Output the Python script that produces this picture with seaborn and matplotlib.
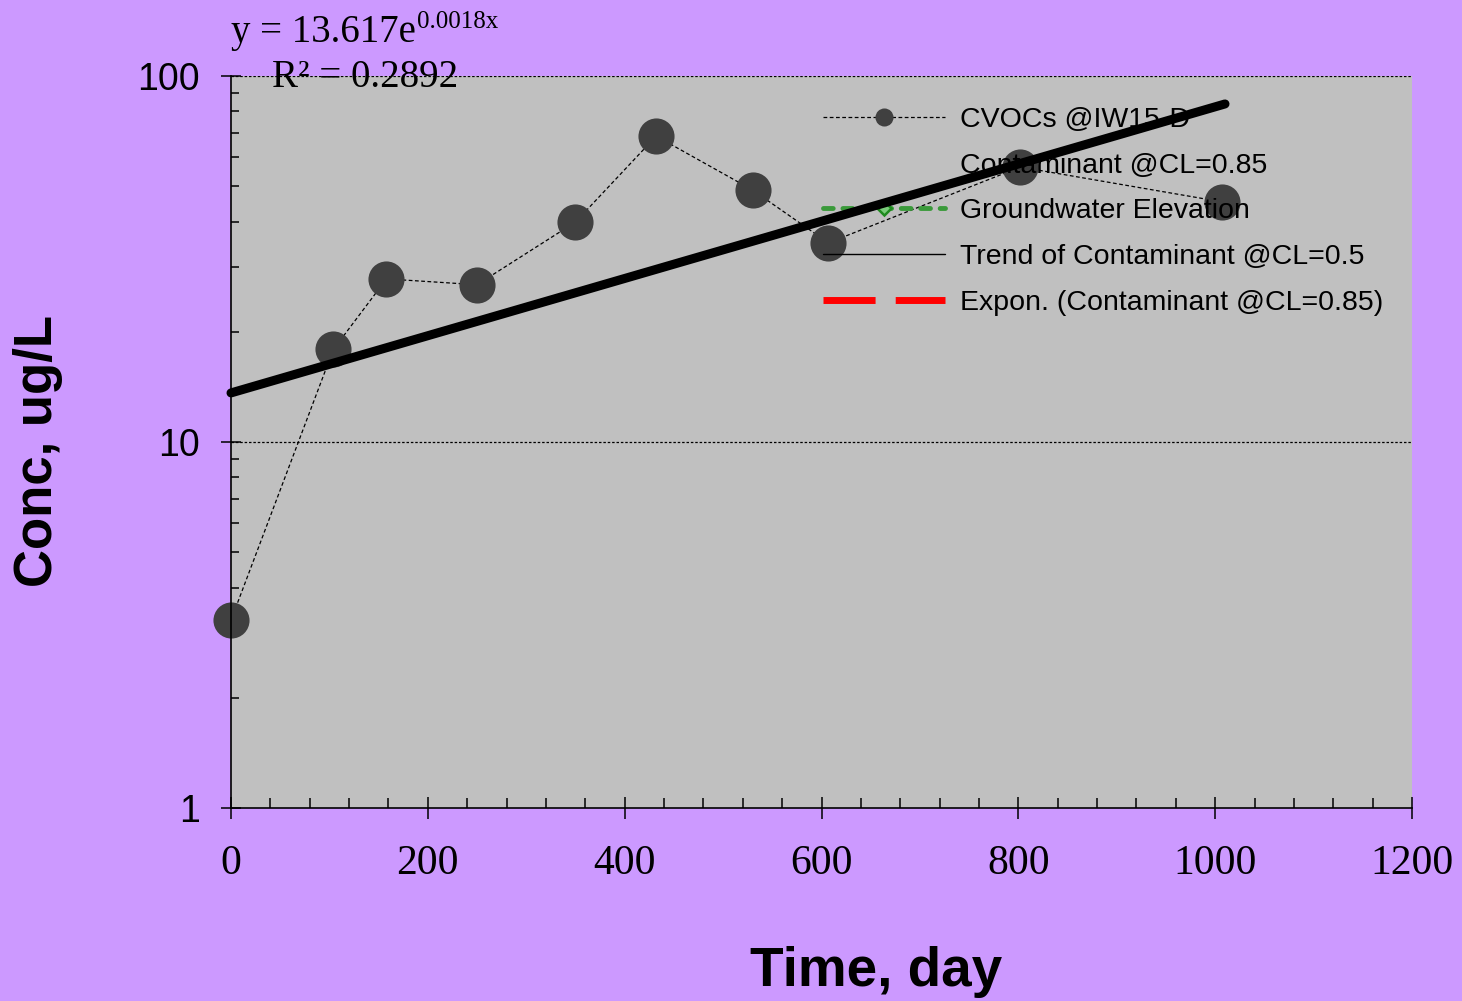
import numpy as np
import pandas as pd
import matplotlib
matplotlib.use("Agg")
import matplotlib.pyplot as plt
from matplotlib.lines import Line2D
from matplotlib.ticker import FixedLocator, NullFormatter
import seaborn as sns

# Monitoring data: CVOCs at well IW15-D
days = [0, 104, 158, 250, 350, 432, 530, 607, 802, 1007]
conc = [3.26, 17.9, 27.9, 26.9, 39.9, 68.5, 48.8, 35.0, 56.4, 45.3]

# Exponential trend fitted to the series (y = a * exp(b * x))
trend_a = 13.617
trend_b = 0.0018
trend_r2 = 0.2892
trend_days = [0, 1010]

x_ticks = [0, 200, 400, 600, 800, 1000, 1200]
y_ticks = [1, 10, 100]
legend_labels = ["CVOCs @IW15-D", "Contaminant @CL=0.85", "Groundwater Elevation",
                 "Trend of Contaminant @CL=0.5", "Expon. (Contaminant @CL=0.85)"]

df = pd.DataFrame({"day": days, "conc": conc})
trend_df = pd.DataFrame({"day": trend_days})
trend_df["conc"] = trend_a * np.exp(trend_b * trend_df["day"])

sns.set_style("ticks")
plt.rcParams["font.family"] = ["Liberation Sans", "DejaVu Sans"]
plt.rcParams.update({"text.color": "black", "axes.labelcolor": "black",
                     "xtick.color": "black", "ytick.color": "black",
                     "axes.edgecolor": "black"})

W, H = 1462, 1001
fig = plt.figure(figsize=(W / 100, H / 100), dpi=100, facecolor="#CC99FF")
ax = fig.add_axes([231 / W, 1 - 808 / H, (1412 - 231) / W, (808 - 76) / H])
ax.set_facecolor("#C0C0C0")

sns.lineplot(data=df, x="day", y="conc", ax=ax, color="black", lw=0.9,
             linestyle=(0, (3, 2)), marker="o", markersize=26,
             markerfacecolor="#404040", markeredgecolor="#404040",
             markeredgewidth=0, zorder=2, clip_on=False)
sns.lineplot(data=trend_df, x="day", y="conc", ax=ax, color="black", lw=6.5,
             solid_capstyle="round", zorder=4, clip_on=False)

ax.set_yscale("log")
ax.set_xlim(0, 1200)
ax.set_ylim(1, 100)

# major gridlines on the log axis
for v in y_ticks[1:]:
    ax.axhline(v, color="black", lw=0.9, linestyle=(0, (2, 1.5)), zorder=1)

for s in ["top", "right"]:
    ax.spines[s].set_visible(False)
for s in ["left", "bottom"]:
    ax.spines[s].set_color("black")
    ax.spines[s].set_linewidth(1.2)

ax.xaxis.set_major_locator(FixedLocator(x_ticks))
ax.xaxis.set_minor_locator(FixedLocator(np.arange(0, 1201, 40)))
ax.set_xticklabels([str(t) for t in x_ticks], fontfamily="Liberation Serif", fontsize=30)
ax.yaxis.set_major_locator(FixedLocator(y_ticks))
ax.yaxis.set_minor_locator(FixedLocator([m * d for d in (1, 10) for m in range(2, 10)]))
ax.yaxis.set_minor_formatter(NullFormatter())
ax.set_yticklabels([str(t) for t in y_ticks], fontsize=27)

ax.tick_params(axis="x", which="major", direction="inout", length=16, width=1.1,
               color="black", pad=18)
ax.tick_params(axis="x", which="minor", direction="in", length=7, width=1.1, color="black")
ax.tick_params(axis="y", which="major", direction="inout", length=15, width=1.1,
               color="black", pad=15)
ax.tick_params(axis="y", which="minor", direction="in", length=6, width=1.1, color="black")

ax.set_xlabel("Time, day", fontsize=39.5, fontweight="bold", va="top")
ax.xaxis.set_label_coords((876 - 231) / (1412 - 231), -(946 - 808) / (808 - 76),
                          transform=ax.transAxes)
ax.set_ylabel("Conc, ug/L", fontsize=38, fontweight="bold", va="top")
ax.yaxis.set_label_coords(-(231 - 13) / (1412 - 231), 0.5 - (451 - 442) / (808 - 76),
                          transform=ax.transAxes)

# legend
handles = [
    Line2D([], [], color="black", lw=0.9, linestyle=(0, (3, 2)), marker="o",
           markersize=13, markerfacecolor="#404040", markeredgewidth=0),
    Line2D([], [], linestyle="none"),
    Line2D([], [], color="#3A9A3A", lw=3.5, linestyle=(0, (2.0, 2.0)), marker="D",
           markersize=7, markerfacecolor="#7ACC7A", markeredgecolor="#1E8A1E",
           markeredgewidth=1.8, dash_capstyle="round"),
    Line2D([], [], color="black", lw=1.0),
    Line2D([], [], color="red", lw=5, linestyle=(0, (7.5, 2.9))),
]
leg = ax.legend(handles, legend_labels, loc="upper left",
                bbox_to_anchor=(823 / W, 1 - 107 / H), bbox_transform=fig.transFigure,
                frameon=False, fontsize=20.5, handlelength=4.3, handletextpad=0.5,
                labelspacing=0.69, borderpad=0, borderaxespad=0)
leg.set_zorder(3)

# trendline equation
serif = "Liberation Serif"
fig.text(231 / W, 1 - 42 / H, "y = 13.617e", fontfamily=serif, fontsize=28,
         ha="left", va="baseline")
fig.text(417 / W, 1 - 28 / H, f"{trend_b:.4f}x", fontfamily=serif, fontsize=18,
         ha="left", va="baseline")
fig.text(365 / W, 1 - 87 / H, f"R² = {trend_r2:.4f}", fontfamily=serif, fontsize=28,
         ha="center", va="baseline")

fig.savefig("out.png", dpi=100, facecolor=fig.get_facecolor())
